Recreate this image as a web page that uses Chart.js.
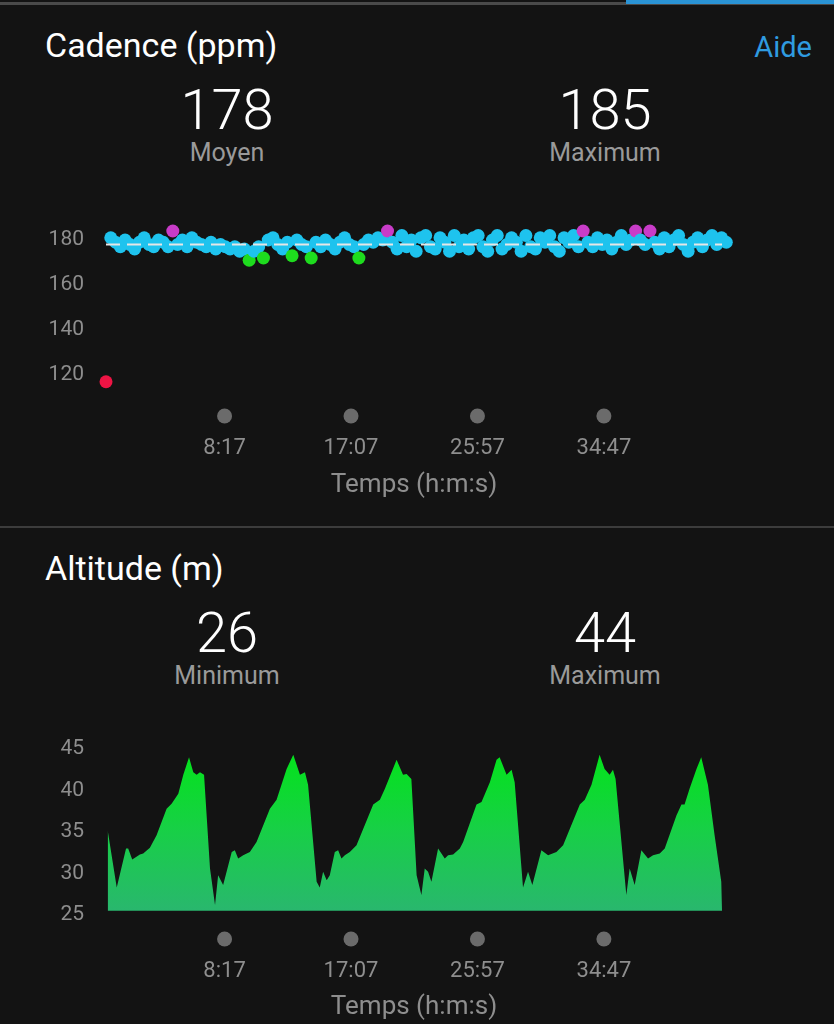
<!DOCTYPE html>
<html lang="fr">
<head>
<meta charset="utf-8">
<title>Cadence / Altitude</title>
<script src="https://cdn.jsdelivr.net/npm/chart.js@4.4.1/dist/chart.umd.min.js"></script>
<style>
    html, body { margin: 0; padding: 0; }
    body {
        width: 834px; height: 1024px; overflow: hidden;
        background: #131313; position: relative;
        font-family: Roboto, "Noto Sans", sans-serif;
    }
    .bar-grey { position: absolute; left: 0; top: 2px; width: 834px; height: 3px; background: #4a4a4a; }
    .bar-blue { position: absolute; left: 626px; top: 0; width: 208px; height: 4px; background: #2a93d5; }
    .sep { position: absolute; left: 0; top: 526px; width: 834px; height: 2px; background: #3c3c3c; }
    .title { position: absolute; left: 45px; color: #fff; font-size: 34px; line-height: 34px; }
    .aide { position: absolute; right: 22px; top: 33px; color: #2f9be0; font-size: 29px; line-height: 29px; }
    .stat { position: absolute; width: 260px; margin-left: -130px; text-align: center; }
    .stat .num { color: #fff; font-size: 56px; line-height: 56px; font-weight: 300; }
    .stat .lbl { color: #9a9a9a; font-size: 25px; line-height: 25px; margin-top: 2px; }
    canvas { position: absolute; left: 0; }
</style>
</head>
<body>
<div class="bar-grey"></div>
<div class="bar-blue"></div>

<div class="title" style="top:28px">Cadence (ppm)</div>
<div class="aide">Aide</div>
<div class="stat" style="left:227px;top:82px"><div class="num">178</div><div class="lbl">Moyen</div></div>
<div class="stat" style="left:605px;top:82px"><div class="num">185</div><div class="lbl">Maximum</div></div>
<canvas id="chart-cadence" width="834" height="300" style="top:202px"></canvas>

<div class="sep"></div>

<div class="title" style="top:551px">Altitude (m)</div>
<div class="stat" style="left:227px;top:605px"><div class="num">26</div><div class="lbl">Minimum</div></div>
<div class="stat" style="left:605px;top:605px"><div class="num">44</div><div class="lbl">Maximum</div></div>
<canvas id="chart-altitude" width="834" height="304" style="top:720px"></canvas>

<script>
/* global Chart */

// =========================================================
// Données
// =========================================================
var TIME_TICKS    = [497, 1027, 1557, 2087];   // secondes -> 8:17, 17:07, 25:57, 34:47
var TIME_MAX      = 2582;                      // fin de l'activité
var CADENCE_TICKS = [120, 140, 160, 180];
var ALT_TICKS     = [25, 30, 35, 40, 45];

var CADENCE_AVG    = 178;
var CADENCE_STEP_S = 20;
var CADENCE = [
    117,
    181, 179, 177, 180, 178, 176, 179, 181, 178, 177, 180, 179, 177,
    184,
    178, 180, 177, 181, 179, 178, 177, 179, 176, 178, 177, 176, 177, 175, 176,
    171,
    175, 177,
    172,
    180, 181, 178, 176, 179,
    173,
    180, 178, 177,
    172,
    179, 177, 180, 178, 176, 179, 181, 178, 177,
    172,
    178, 180, 179, 181, 180,
    184,
    179, 176, 182, 177, 180, 175, 181, 182, 177, 176,
    181, 179, 175, 182, 177, 180, 176, 181, 182, 177,
    175, 180, 182, 176, 178, 181, 179, 175, 182, 177,
    176, 181, 179, 182, 177, 175, 181, 179, 182, 177,
    184,
    179, 177, 181, 178, 180, 176, 179, 182, 178, 180,
    184,
    180, 178,
    184,
    179, 176, 181, 177, 180, 182, 178, 175, 179, 181, 177, 180, 182, 178, 181, 179
];

var ALT_FILL_BASE = 25.5;
var ALT_TIME_S = [
    7, 45, 84, 93, 110, 142, 156, 184, 212, 254, 275, 303, 324, 348, 366, 380, 394, 411,
    436, 457, 470, 491, 527, 540, 554, 575, 603, 631, 687, 715, 757, 785, 813, 834, 847,
    883, 896, 910, 925, 938, 959, 973, 987, 1001, 1022, 1050, 1120, 1148, 1169, 1218, 1245, 1260, 1273, 1280,
    1302, 1322, 1336, 1350, 1364, 1392, 1420, 1434, 1455, 1483, 1497, 1553, 1574, 1609, 1637, 1650, 1679, 1700, 1713,
    1748, 1769, 1787, 1825, 1853, 1888, 1916, 1986, 2007, 2035, 2069, 2090, 2111, 2125, 2136,
    2181, 2195, 2216, 2244, 2272, 2293, 2321, 2342, 2391, 2412, 2425, 2446, 2475, 2495, 2523, 2551, 2579, 2582
];
var ALT_M = [
    35.2, 28.3, 33.0, 33.0, 31.7, 32.3, 32.4, 33.1, 34.6, 37.8, 38.4, 39.6, 41.9, 44.0, 42.2, 41.9, 42.2, 41.9,
    30.6, 26.2, 29.8, 28.6, 32.6, 32.8, 31.8, 32.2, 32.6, 33.8, 37.8, 38.9, 42.6, 44.3, 41.9, 42.2, 40.7,
    29.0, 28.3, 30.2, 29.2, 29.8, 32.6, 32.8, 31.8, 32.2, 32.6, 33.4, 38.3, 38.9, 40.2, 43.7, 41.9, 42.0, 41.6, 41.4,
    29.8, 27.4, 30.6, 30.2, 29.0, 33.0, 31.8, 32.2, 32.3, 33.0, 33.8, 38.3, 38.6, 41.0, 43.7, 44.0, 41.9, 42.5, 41.0,
    28.3, 30.2, 28.6, 32.8, 32.2, 32.6, 33.4, 38.3, 38.9, 40.7, 44.3, 42.6, 41.9, 42.5, 41.4,
    27.4, 30.6, 28.6, 32.8, 31.8, 32.2, 32.4, 33.0, 37.0, 38.3, 38.3, 40.2, 42.6, 44.0, 40.7, 34.6, 29.0, 25.5
];

(function () {
    'use strict';

    var GREY_TXT = '#8e8e8e';
    var FONT     = 'Roboto, "Noto Sans", sans-serif';

    function fmtTime(s) {
        var m = Math.floor(s / 60);
        var r = s % 60;
        return m + ':' + String(r).padStart(2, '0');
    }

    // Couleur des zones de cadence (style Garmin).
    function zoneColor(v) {
        if (v >= 183) return '#c83cc8';
        if (v >= 174) return '#1ec3ee';
        if (v >= 163) return '#1edc1e';
        if (v >= 151) return '#f08c1e';
        return '#ee1444';
    }

    // Petits ronds gris au-dessus des graduations de temps.
    var tickDots = {
        id: 'tickDots',
        afterDraw: function (chart, args, opts) {
            var x = chart.scales.x;
            var c = chart.ctx;
            c.save();
            c.fillStyle = '#6b6b6b';
            x.ticks.forEach(function (t) {
                c.beginPath();
                c.arc(x.getPixelForValue(t.value), x.top + opts.offset, 7.5, 0, Math.PI * 2);
                c.fill();
            });
            c.restore();
        }
    };

    function timeAxis(height, tickPad) {
        return {
            type: 'linear',
            min: 0,
            max: TIME_MAX,
            afterBuildTicks: function (s) { s.ticks = TIME_TICKS.map(function (v) { return { value: v }; }); },
            afterFit: function (s) { s.height = height; },
            grid:   { display: false, drawTicks: false },
            border: { display: false },
            ticks: {
                color: GREY_TXT,
                font: { family: FONT, size: 22 },
                padding: tickPad,
                maxRotation: 0,
                autoSkip: false,
                callback: function (v) { return fmtTime(v); }
            },
            title: {
                display: true,
                text: 'Temps (h:m:s)',
                color: GREY_TXT,
                font: { family: FONT, size: 26 },
                padding: { top: 0, bottom: 1 }
            }
        };
    }

    // L'espace libellé -> tracé passe par tickLength (grille masquée),
    // pour ne pas gonfler la marge haute comme le ferait ticks.padding.
    function valueAxis(min, max, ticks) {
        return {
            min: min,
            max: max,
            afterBuildTicks: function (s) { s.ticks = ticks.map(function (v) { return { value: v }; }); },
            afterFit: function (s) { s.width = 106; },
            grid:   { display: false, drawTicks: true, tickLength: 22 },
            border: { display: false },
            ticks: {
                color: GREY_TXT,
                font: { family: FONT, size: 21 },
                padding: 0
            }
        };
    }

    // =========================================================
    // Cadence
    // =========================================================
    var cadPoints = CADENCE.map(function (v, i) { return { x: i * CADENCE_STEP_S, y: v }; });
    var lastT = (CADENCE.length - 1) * CADENCE_STEP_S;

    new Chart(document.getElementById('chart-cadence'), {
        type: 'scatter',
        data: {
            datasets: [
                {
                    type: 'line',
                    data: [{ x: 0, y: CADENCE_AVG }, { x: lastT, y: CADENCE_AVG }],
                    borderColor: '#e6e6e6',
                    borderWidth: 2,
                    borderDash: [14, 7],
                    pointRadius: 0,
                    fill: false,
                    order: 0
                },
                {
                    data: cadPoints,
                    pointRadius: 6.5,
                    pointHoverRadius: 6.5,
                    borderWidth: 0,
                    backgroundColor: function (ctx) {
                        var p = ctx.raw;
                        return p ? zoneColor(p.y) : '#1ec3ee';
                    },
                    clip: false,
                    order: 1
                }
            ]
        },
        options: {
            responsive: false,
            animation: false,
            devicePixelRatio: 1,
            layout: { padding: { top: 20, right: 112, left: 0, bottom: 0 } },
            plugins: {
                legend:   { display: false },
                tooltip:  { enabled: false },
                tickDots: { offset: 18.5 }
            },
            scales: {
                x: timeAxis(104.5, 38),
                y: valueAxis(110, 188, CADENCE_TICKS)
            }
        },
        plugins: [tickDots]
    });

    // =========================================================
    // Altitude
    // =========================================================
    var altPoints = ALT_M.map(function (v, i) { return { x: ALT_TIME_S[i], y: v }; });

    new Chart(document.getElementById('chart-altitude'), {
        type: 'line',
        data: {
            datasets: [{
                data: altPoints,
                borderWidth: 0,
                pointRadius: 0,
                tension: 0,
                fill: { value: ALT_FILL_BASE },
                backgroundColor: function (ctx) {
                    var ca = ctx.chart.chartArea;
                    if (!ca) return '#1ccf50';
                    var g = ctx.chart.ctx.createLinearGradient(0, ca.top, 0, ca.bottom);
                    g.addColorStop(0, '#00e614');
                    g.addColorStop(0.5, '#17d045');
                    g.addColorStop(1, '#2ab670');
                    return g;
                }
            }]
        },
        options: {
            responsive: false,
            animation: false,
            devicePixelRatio: 1,
            layout: { padding: { top: 20.7, right: 112, left: 0, bottom: 0 } },
            plugins: {
                legend:   { display: false },
                tooltip:  { enabled: false },
                tickDots: { offset: 24 }
            },
            scales: {
                x: timeAxis(109, 43),
                y: valueAxis(25, 46, ALT_TICKS)
            }
        },
        plugins: [tickDots]
    });
}());
</script>
</body>
</html>
